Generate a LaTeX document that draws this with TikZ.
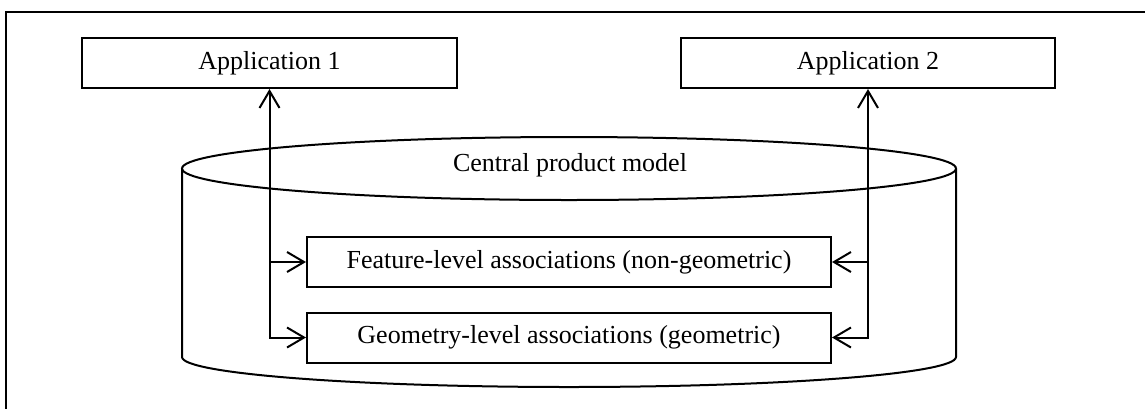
\documentclass[tikz,border=0pt]{standalone}
\usepackage{fontspec}
\setmainfont{Liberation Serif}
\usetikzlibrary{arrows.meta}
\begin{document}
\begin{tikzpicture}[x=1pt,y=-1pt, line width=2pt,
  box/.style={draw, minimum height=50pt, inner sep=0pt,
    font=\fontsize{26}{30}\selectfont},
  barb/.tip={Straight Barb[length=17pt,width=20pt]},
  onearrow/.style={-barb},
  twoarrow/.style={barb-barb}]
  \useasboundingbox (0,0) rectangle (1145,408);

  % outer frame (left and top edges)
  \draw (6,420) -- (6,12) -- (1160,12);

  % applications
  \node[box, minimum width=375pt] (app1) at (269.5,63) {Application 1};
  \node[box, minimum width=374pt] (app2) at (868,63) {Application 2};

  % central product model cylinder
  \draw (569,168.5) ellipse [x radius=387, y radius=31.5];
  \draw (182,168.5) -- (182,357) arc [start angle=180, end angle=0, x radius=387, y radius=30] -- (956,168.5);
  \node[font=\fontsize{26}{30}\selectfont] (cpm) at (570,165) {Central product model};

  % association levels
  \node[box, minimum width=524pt] (feat) at (569,262) {Feature-level associations (non-geometric)};
  \node[box, minimum width=524pt] (geom) at (569,337.5) {Geometry-level associations (geometric)};

  % links from the applications
  \draw[twoarrow] (app1.south) |- (geom.west);
  \draw[onearrow] (app1.south |- feat.west) -- (feat.west);
  \draw[twoarrow] (app2.south) |- (geom.east);
  \draw[onearrow] (app2.south |- feat.east) -- (feat.east);
\end{tikzpicture}
\end{document}
